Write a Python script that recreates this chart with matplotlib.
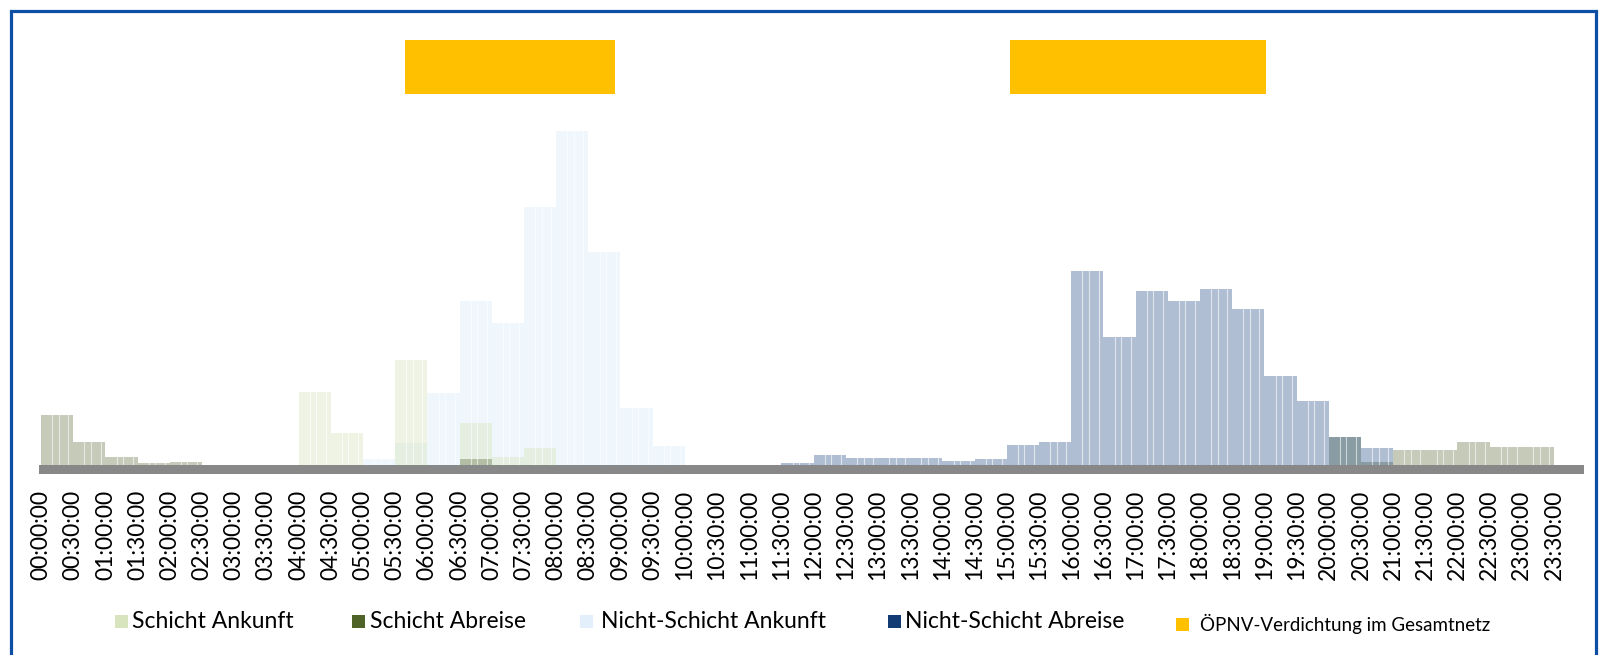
import matplotlib
matplotlib.use("Agg")
import matplotlib.pyplot as plt
from matplotlib.patches import Rectangle
import numpy as np

# ---------------- data (half-hour bins, arbitrary units) ----------------
time_labels = [f"{h:02d}:{m:02d}:00" for h in range(24) for m in (0, 30)]

schicht_ankunft = [0, 0, 0, 0, 0, 0, 0, 0, 73, 32, 0, 105,
                   0, 42, 8, 17, 0, 0, 0, 0, 0, 0, 0, 0,
                   0, 0, 0, 0, 0, 0, 0, 0, 0, 0, 0, 0,
                   0, 0, 0, 0, 0, 0, 0, 0, 0, 0, 0, 0]
schicht_abreise = [50, 23, 8, 2, 3, 0, 0, 0, 0, 0, 0, 0,
                   0, 6, 0, 0, 0, 0, 0, 0, 0, 0, 0, 0,
                   0, 0, 0, 0, 0, 0, 0, 0, 0, 0, 0, 0,
                   0, 0, 0, 0, 28, 3, 15, 15, 23, 18, 18, 0]
nicht_schicht_ankunft = [0, 0, 0, 0, 0, 0, 0, 0, 0, 0, 6, 22,
                         72, 164, 142, 258, 334, 213, 57, 19, 0, 0, 0, 0,
                         0, 0, 0, 0, 0, 0, 0, 0, 0, 0, 0, 0,
                         0, 0, 0, 0, 0, 0, 0, 0, 0, 0, 0, 0]
nicht_schicht_abreise = [0, 0, 0, 0, 0, 0, 0, 0, 0, 0, 0, 0,
                         0, 0, 0, 0, 0, 0, 0, 0, 0, 0, 0, 2,
                         10, 7, 7, 7, 4, 6, 20, 23, 194, 128, 174, 164,
                         176, 156, 89, 64, 28, 17, 0, 0, 0, 0, 0, 0]

# ÖPNV-Verdichtung periods (start, end) in hours
oepnv_start_h = [5.65, 15.05]
oepnv_end_h = [8.92, 19.03]
oepnv_band = (371, 425)  # vertical extent of the marker band

series_names = ["Schicht Ankunft", "Schicht Abreise",
                "Nicht-Schicht Ankunft", "Nicht-Schicht Abreise",
                "ÖPNV-Verdichtung im Gesamtnetz"]
legend_colors = ["#d7e4bd", "#4f6228", "#e3f0fb", "#123a73", "#ffc000"]

# ---------------- figure ----------------
W, H = 1607, 655
fig = plt.figure(figsize=(W / 100, H / 100), dpi=100)
plt.rcParams["font.family"] = ["Lato", "DejaVu Sans"]

ax_l, ax_r, ax_t, ax_b = 39, 1584, 20, 474
ax = fig.add_axes([ax_l / W, 1 - ax_b / H, (ax_r - ax_l) / W, (ax_b - ax_t) / H])

x = np.arange(len(time_labels))
ax.bar(x, nicht_schicht_ankunft, width=1.0, align="edge",
       color="#e3f0fb", alpha=0.55, linewidth=0, zorder=2)
ax.bar(x, schicht_ankunft, width=1.0, align="edge",
       color="#d7e4bd", alpha=0.42, linewidth=0, zorder=3)
ax.bar(x, schicht_abreise, width=1.0, align="edge",
       color="#4f6228", alpha=0.33, linewidth=0, zorder=4)
ax.bar(x, nicht_schicht_abreise, width=1.0, align="edge",
       color="#0f3a7a", alpha=0.33, linewidth=0, zorder=5)

# thin white stripes inside bars (per-minute look)
for xi in x:
    for frac in (0.35, 0.55, 0.85):
        ax.axvline(xi + frac, color="white", lw=0.8, alpha=0.6, zorder=6)

# ÖPNV markers
for s, e in zip(oepnv_start_h, oepnv_end_h):
    ax.bar(s * 2, oepnv_band[1] - oepnv_band[0], bottom=oepnv_band[0],
           width=(e - s) * 2, align="edge", color="#ffc000", linewidth=0, zorder=7)

# gray axis band
ax.axhspan(-9, 0, color="#888888", linewidth=0, zorder=8)

ax.set_xlim(-0.062, 47.93)
ax.set_ylim(-9, 445)
for sp in ax.spines.values():
    sp.set_visible(False)
ax.set_yticks([])
ax.set_xticks(x)
ax.set_xticklabels(time_labels, rotation=90, fontsize=16.5, color="black")
ax.tick_params(axis="x", length=0, pad=11.5)

# ---------------- legend (manual) ----------------
sq_x = [115, 352, 580, 888, 1176]
txt_x = [132, 370, 601, 905, 1200]
for i, name in enumerate(series_names):
    yc = 621 if i < 4 else 624
    sz = 13
    fig.add_artist(Rectangle((sq_x[i] / W, 1 - (yc + sz / 2) / H), sz / W, sz / H,
                             transform=fig.transFigure, color=legend_colors[i],
                             linewidth=0))
    fig.text(txt_x[i] / W, 1 - yc / H, name, fontsize=16.5 if i < 4 else 13.5,
             va="center", ha="left", color="black")

# outer blue frame
fig.add_artist(Rectangle((10.5 / W, -0.05), (1596 - 10.5) / W, 1.05 - 10.5 / H,
                         transform=fig.transFigure, fill=False,
                         edgecolor="#0d4ea6", linewidth=2.3, clip_on=False))

fig.savefig("out.png", dpi=100)
